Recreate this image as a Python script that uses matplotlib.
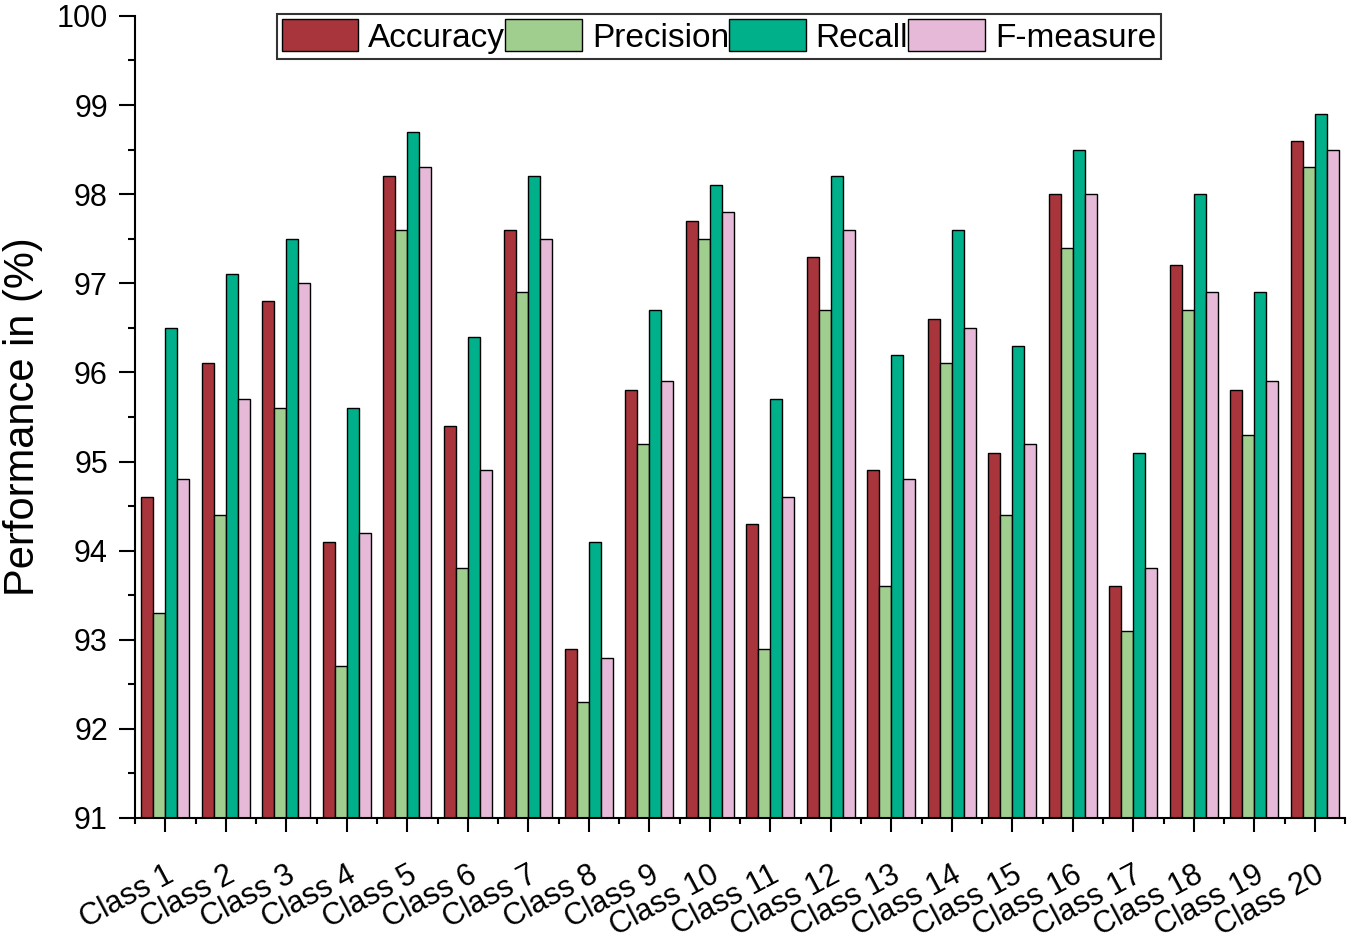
import matplotlib

matplotlib.use("Agg")
import matplotlib.pyplot as plt
import numpy as np
from matplotlib.ticker import MultipleLocator, FixedLocator
from matplotlib.transforms import ScaledTranslation

plt.rcParams["font.family"] = ["Liberation Sans", "DejaVu Sans"]

classes = [f"Class {i}" for i in range(1, 21)]
accuracy = [94.6, 96.1, 96.8, 94.1, 98.2, 95.4, 97.6, 92.9, 95.8, 97.7,
            94.3, 97.3, 94.9, 96.6, 95.1, 98.0, 93.6, 97.2, 95.8, 98.6]
precision = [93.3, 94.4, 95.6, 92.7, 97.6, 93.8, 96.9, 92.3, 95.2, 97.5,
             92.9, 96.7, 93.6, 96.1, 94.4, 97.4, 93.1, 96.7, 95.3, 98.3]
recall = [96.5, 97.1, 97.5, 95.6, 98.7, 96.4, 98.2, 94.1, 96.7, 98.1,
          95.7, 98.2, 96.2, 97.6, 96.3, 98.5, 95.1, 98.0, 96.9, 98.9]
fmeasure = [94.8, 95.7, 97.0, 94.2, 98.3, 94.9, 97.5, 92.8, 95.9, 97.8,
            94.6, 97.6, 94.8, 96.5, 95.2, 98.0, 93.8, 96.9, 95.9, 98.5]

series = [
    ("Accuracy", accuracy, "#A8353C"),
    ("Precision", precision, "#A0CE8F"),
    ("Recall", recall, "#00B08B"),
    ("F-measure", fmeasure, "#E6B9D8"),
]

fig = plt.figure(figsize=(13.5, 9.43), dpi=100)
ax = fig.add_axes([0.1, 0.1326, 0.8963, 0.8505])

x = np.arange(1, len(classes) + 1)
w = 0.2
base = 91
for i, (name, vals, color) in enumerate(series):
    heights = np.array(vals) - base
    ax.bar(x + (i - 1.5) * w, heights, width=w, bottom=base, color=color,
           edgecolor="black", linewidth=1.0, label=name)

ax.set_xlim(0.5, 20.5)
ax.set_ylim(91, 100)
ax.yaxis.set_major_locator(MultipleLocator(1))
ax.yaxis.set_minor_locator(MultipleLocator(0.5))
ax.set_xticks(x)
ax.xaxis.set_minor_locator(FixedLocator(np.arange(0.5, 21, 1)))
ax.set_xticklabels(classes, rotation=28, ha="right", rotation_mode="anchor",
                   fontsize=22)
# shift rotated labels a little to the right, like the original
shift = ScaledTranslation(15 / 100, 0, fig.dpi_scale_trans)
for lab in ax.get_xticklabels():
    lab.set_transform(lab.get_transform() + shift)

ax.tick_params(axis="y", which="major", labelsize=22, length=11.5, width=1.5,
               pad=8)
ax.tick_params(axis="y", which="minor", length=5, width=1.5)
ax.tick_params(axis="x", which="major", length=10, width=1.5, pad=20)
ax.tick_params(axis="x", which="minor", length=4.5, width=1.5)

for side in ("top", "right"):
    ax.spines[side].set_visible(False)
for side in ("left", "bottom"):
    ax.spines[side].set_linewidth(1.5)

ax.set_ylabel("Performance in (%)", fontsize=30, labelpad=10)

leg = ax.legend(loc="upper left", bbox_to_anchor=(0.117, 1.002), ncol=4,
                fontsize=24, frameon=True, fancybox=False, edgecolor="black",
                handlelength=2.3, handleheight=1.1, handletextpad=0.3,
                columnspacing=0.0, borderpad=0.15, borderaxespad=0.0)
leg.get_frame().set_linewidth(1.5)

fig.savefig("out.png", dpi=100)
plt.close(fig)
